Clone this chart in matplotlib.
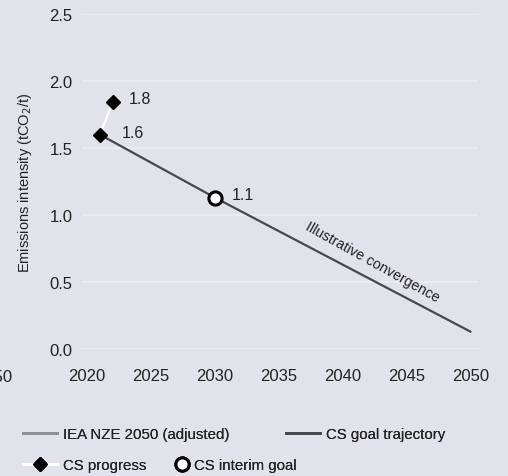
import matplotlib
matplotlib.use("Agg")
import matplotlib.pyplot as plt
from matplotlib.lines import Line2D

# ---- data ----
goal_years = [2021, 2030, 2050]
goal_values = [1.60, 1.13, 0.13]
progress_years = [2021, 2022]
progress_values = [1.60, 1.84]
interim_year = [2030]
interim_value = [1.13]
value_labels = ["1.6", "1.8", "1.1"]
x_ticks = [2020, 2025, 2030, 2035, 2040, 2045, 2050]
y_ticks = [0.0, 0.5, 1.0, 1.5, 2.0, 2.5]
y_ticklabels = ["0.0", "0.5", "1.0", "1.5", "2.0", "2.5"]
annotation_text = "Illustrative convergence"
legend_labels = ["IEA NZE 2050 (adjusted)", "CS goal trajectory", "CS progress", "CS interim goal"]

BG = "#e2e2ea"
GRID = "#ededf3"
DARK = "#47474c"
IEA = "#8e8e94"
TXT = "#222222"

plt.rcParams['font.family'] = ['Liberation Sans', 'DejaVu Sans']

W, H = 508, 477
fig = plt.figure(figsize=(W / 100, H / 100), dpi=100, facecolor=BG)
ax = fig.add_axes([82 / W, 1 - 350 / H, (478 - 82) / W, (350 - 15) / H])
ax.set_facecolor(BG)
for s in ax.spines.values():
    s.set_visible(False)
ax.set_xlim(2019.6, 2050.6)
ax.set_ylim(0, 2.5)
ax.set_xticks(x_ticks)
ax.set_yticks(y_ticks)
ax.set_yticklabels(y_ticklabels)
ax.tick_params(axis='both', length=0, labelsize=12, colors=TXT)
ax.tick_params(axis='x', pad=14)
ax.tick_params(axis='y', pad=7)
ax.grid(axis='y', color=GRID, linewidth=1.2)
ax.set_axisbelow(True)
ax.set_ylabel("Emissions intensity (tCO$_2$/t)", fontsize=10.5, color=TXT, labelpad=11)

# goal trajectory
ax.plot(goal_years, goal_values, color=DARK, linewidth=1.6, zorder=3, clip_on=False)
# progress
ax.plot(progress_years, progress_values, color='white', linewidth=1.6, marker='D',
        markersize=7.5, markerfacecolor='black', markeredgecolor='black', zorder=4, clip_on=False)
# interim goal
ax.plot(interim_year, interim_value, linestyle='none', marker='o', markersize=9.5,
        markerfacecolor='white', markeredgecolor='black', markeredgewidth=2.2, zorder=5, clip_on=False)

# value labels
ax.annotate(value_labels[0], (progress_years[0], progress_values[0]), xytext=(22, 2),
            textcoords='offset pixels', fontsize=11.5, va='center', ha='left', color=TXT)
ax.annotate(value_labels[1], (progress_years[1], progress_values[1]), xytext=(16, 4),
            textcoords='offset pixels', fontsize=11.5, va='center', ha='left', color=TXT)
ax.annotate(value_labels[2], (interim_year[0], interim_value[0]), xytext=(17, 3),
            textcoords='offset pixels', fontsize=11.5, va='center', ha='left', color=TXT)

ax.text(2042.3, 0.655, annotation_text, rotation=-29, rotation_mode='anchor',
        ha='center', va='center', fontsize=10.3, color=TXT)

# cut-off neighbour label (as in the reference)
fig.text(12 / W, 1 - 378 / H, "2050", ha='right', va='center', fontsize=12, color=TXT)

# legends
def add_leg(handle, label, x, y, hl):
    lg = fig.legend([handle], [label], loc='center left', bbox_to_anchor=(x / W, 1 - y / H),
                    frameon=False, borderpad=0, borderaxespad=0, handlelength=hl,
                    handletextpad=0.4, fontsize=10.8, labelcolor=TXT)
    fig.add_artist(lg)

add_leg(Line2D([], [], color=IEA, linewidth=2), legend_labels[0], 23, 435, 2.25)
add_leg(Line2D([], [], color=DARK, linewidth=2), legend_labels[1], 286, 435, 2.25)
add_leg(Line2D([], [], color='white', linewidth=2, marker='D', markersize=7.5,
               markerfacecolor='black', markeredgecolor='black'), legend_labels[2], 23, 466, 2.25)
add_leg(Line2D([], [], linestyle='none', marker='o', markersize=9.5, markerfacecolor='white',
               markeredgecolor='black', markeredgewidth=2.2), legend_labels[3], 175, 466, 0.9)

fig.savefig("out.png", dpi=100, facecolor=BG)
